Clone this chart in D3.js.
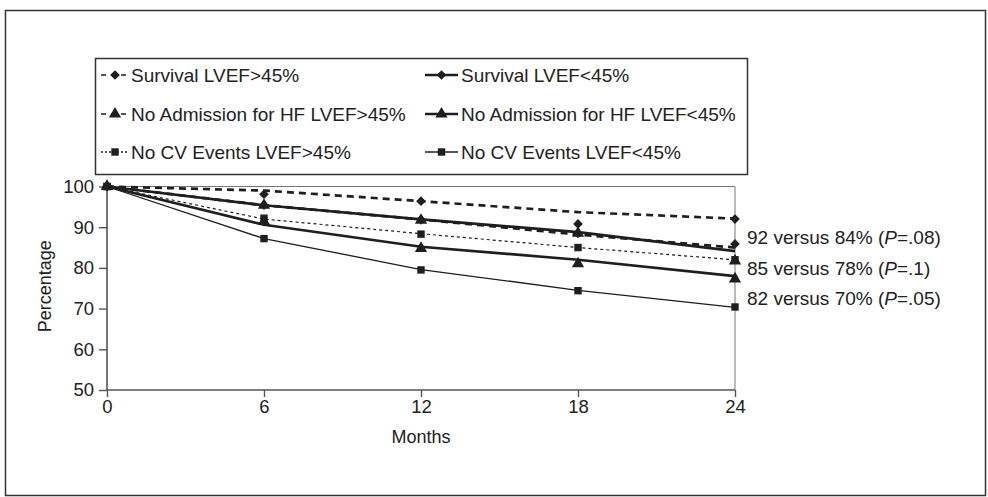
<!DOCTYPE html>
<html><head><meta charset="utf-8">
<script src="https://cdn.jsdelivr.net/npm/d3@7"></script>
<style>
html,body{margin:0;padding:0;background:#fff;}
svg text{font-family:"Liberation Sans",Arial,sans-serif;fill:#222;}
</style></head>
<body>
<svg id="chart" width="988" height="497"></svg>
<script>
const months = [0, 6, 12, 18, 24];
const xTicks = [0, 6, 12, 18, 24];
const yTicks = [50, 60, 70, 80, 90, 100];

const seriesNames = [
  "Survival LVEF>45%", "Survival LVEF<45%",
  "No Admission for HF LVEF>45%", "No Admission for HF LVEF<45%",
  "No CV Events LVEF>45%", "No CV Events LVEF<45%"
];
// line values
const survivalHighLine   = [100, 99.0, 96.4, 93.7, 92.1];
const survivalLowLine    = [100, 95.4, 91.9, 88.8, 84.1];
const admissionHighLine  = [100, 95.4, 91.9, 88.2, 85.0];
const admissionLowLine   = [100, 90.6, 85.2, 82.0, 78.0];
const cvHighLine         = [100, 92.0, 88.4, 85.0, 82.0];
const cvLowLine          = [100, 87.2, 79.6, 74.5, 70.3];
// marker values
const survivalHighMarks  = [100, 98.1, 96.4, 90.8, 92.0];
const survivalLowMarks   = [100, 95.4, 91.8, 88.5, 85.9];
const admissionHighMarks = [100, 95.4, 91.7, 88.5, 81.7];
const admissionLowMarks  = [100, 91.4, 84.8, 81.0, 77.3];
const cvHighMarks        = [100, 92.2, 88.3, 85.0, 82.0];
const cvLowMarks         = [100, 87.2, 79.5, 74.4, 70.4];

const annotations = [
  {pre: "92 versus 84% (", p: "P", post: "=.08)", v: 92},
  {pre: "85 versus 78% (", p: "P", post: "=.1)", v: 85},
  {pre: "82 versus 70% (", p: "P", post: "=.05)", v: 82}
];

const styles = [
  {w: 2.7, dash: "7,5", sym: "diamond"},
  {w: 2.7, dash: null, sym: "diamond"},
  {w: 2.7, dash: "7,5", sym: "triangle"},
  {w: 2.7, dash: null, sym: "triangle"},
  {w: 1.2, dash: "3,3", sym: "square"},
  {w: 1.3, dash: null, sym: "square"}
];
const lines = [survivalHighLine, survivalLowLine, admissionHighLine, admissionLowLine, cvHighLine, cvLowLine];
const marks = [survivalHighMarks, survivalLowMarks, admissionHighMarks, admissionLowMarks, cvHighMarks, cvLowMarks];

const ink = "#1e1e1e";
const svg = d3.select("#chart");

// outer frame
svg.append("rect").attr("x", 5.5).attr("y", 10.5).attr("width", 980).attr("height", 485)
  .attr("fill", "none").attr("stroke", "#333").attr("stroke-width", 1.5);

const x = d3.scaleLinear().domain([0, 24]).range([107, 735]);
const y = d3.scaleLinear().domain([50, 100]).range([390, 186.5]);

// plot frame (top + right)
svg.append("path").attr("d", `M${x(0)},${y(100)}H${x(24)}V${y(50)}`)
  .attr("fill", "none").attr("stroke", "#777").attr("stroke-width", 1);

// axes
const yAxis = svg.append("g").attr("transform", `translate(${x(0)},0)`)
  .call(d3.axisLeft(y).tickValues(yTicks).tickSize(8).tickPadding(5).tickFormat(d3.format("d")));
const xAxis = svg.append("g").attr("transform", `translate(0,${y(50)})`)
  .call(d3.axisBottom(x).tickValues(xTicks).tickSize(7).tickPadding(3).tickFormat(d3.format("d")));
[yAxis, xAxis].forEach(a => {
  a.select(".domain").attr("stroke", "#555").attr("stroke-width", 1.6);
  a.selectAll(".tick line").attr("stroke", "#555").attr("stroke-width", 1.4);
  a.selectAll("text").attr("font-size", 18.5).attr("fill", "#222");
});
yAxis.select(".domain").attr("d", `M0,${y(50)}V${y(100)}`);
xAxis.select(".domain").attr("d", `M${x(0)},0H${x(24)}`);

svg.append("text").attr("transform", `translate(45,${(y(50)+y(100))/2 - 2}) rotate(-90)`)
  .attr("text-anchor", "middle").attr("dy", "0.35em").attr("font-size", 18).text("Percentage");
svg.append("text").attr("x", (x(0)+x(24))/2).attr("y", 437)
  .attr("text-anchor", "middle").attr("dy", "0.35em").attr("font-size", 18).text("Months");

function symbolPath(sym) {
  if (sym === "diamond") return d3.symbol().type(d3.symbolDiamond2).size(60)();
  if (sym === "triangle") return d3.symbol().type(d3.symbolTriangle).size(65)();
  return d3.symbol().type(d3.symbolSquare).size(55)();
}

const lineGen = d3.line().x((d, i) => x(months[i])).y(d => y(d));
const drawOrder = [5, 4, 3, 2, 1, 0];
drawOrder.forEach(k => {
  const st = styles[k];
  svg.append("path").attr("d", lineGen(lines[k])).attr("fill", "none")
    .attr("stroke", ink).attr("stroke-width", st.w)
    .attr("stroke-dasharray", st.dash);
});
drawOrder.forEach(k => {
  const st = styles[k];
  svg.append("g").selectAll("path").data(marks[k]).join("path")
    .attr("transform", (d, i) => `translate(${x(months[i])},${y(d)})`)
    .attr("d", symbolPath(st.sym)).attr("fill", ink);
});

// annotations
const annY = [237, 268, 298];
annotations.forEach((a, i) => {
  const t = svg.append("text").attr("x", 747).attr("y", annY[i]).attr("dy", "0.35em").attr("font-size", 19);
  t.append("tspan").text(a.pre);
  t.append("tspan").attr("font-style", "italic").text(a.p);
  t.append("tspan").text(a.post);
});

// legend
svg.append("rect").attr("x", 95.5).attr("y", 58.5).attr("width", 652).attr("height", 116)
  .attr("fill", "#fff").attr("stroke", "#333").attr("stroke-width", 1.5);
const legRows = [75, 114, 152];
const legCols = [{x0: 101, x1: 129, tx: 131}, {x0: 425, x1: 458, tx: 461}];
seriesNames.forEach((name, k) => {
  const row = Math.floor(k / 2), col = k % 2;
  const st = styles[k];
  const c = legCols[col];
  const yy = legRows[row];
  const lw = col === 0 ? 1.3 : st.w;
  const dash = col === 0 ? (k === 4 ? "2,2" : "5,5") : null;
  svg.append("line").attr("x1", c.x0).attr("x2", c.x1).attr("y1", yy).attr("y2", yy)
    .attr("stroke", ink).attr("stroke-width", lw).attr("stroke-dasharray", dash);
  svg.append("path").attr("transform", `translate(${(c.x0 + c.x1) / 2},${yy})`)
    .attr("d", symbolPath(st.sym)).attr("fill", ink);
  svg.append("text").attr("x", c.tx).attr("y", yy).attr("dy", "0.35em").attr("font-size", 19).text(name);
});
</script>
</body></html>
